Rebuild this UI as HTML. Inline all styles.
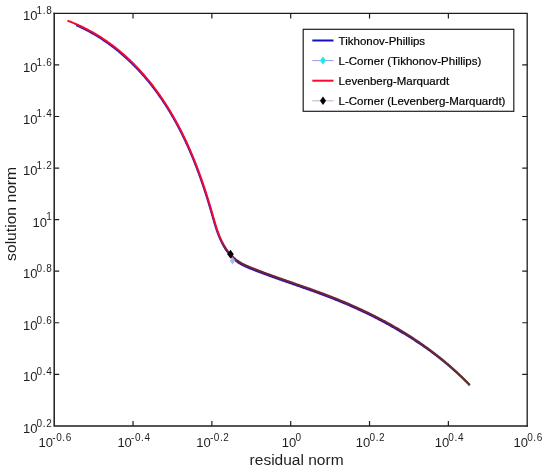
<!DOCTYPE html>
<html><head><meta charset="utf-8"><style>
html,body{margin:0;padding:0;background:#fff;width:550px;height:476px;overflow:hidden}
svg{display:block;will-change:transform}
</style></head><body>
<svg width="550" height="476" viewBox="0 0 550 476">
<rect width="550" height="476" fill="#fff"/>
<defs><linearGradient id="gr" gradientUnits="userSpaceOnUse" x1="218" y1="0" x2="470" y2="0"><stop offset="0.0000" stop-color="#f00a32"/><stop offset="0.0437" stop-color="#6e2432"/><stop offset="0.7222" stop-color="#6e2432"/><stop offset="1.0000" stop-color="#603226"/></linearGradient><linearGradient id="gb" gradientUnits="userSpaceOnUse" x1="218" y1="0" x2="470" y2="0"><stop offset="0.0000" stop-color="#1a1acc"/><stop offset="0.0437" stop-color="#3212a8"/><stop offset="0.7222" stop-color="#3212a8"/><stop offset="1.0000" stop-color="#40207a"/></linearGradient></defs>
<path d="M76.26,25.24 L77.16,25.64 L78.05,26.04 L78.94,26.45 L79.82,26.86 L80.70,27.27 L81.58,27.69 L82.45,28.11 L83.33,28.54 L84.19,28.97 L85.06,29.40 L85.92,29.84 L86.78,30.29 L87.63,30.74 L88.48,31.19 L89.33,31.65 L90.18,32.11 L91.02,32.57 L91.86,33.04 L92.69,33.52 L93.52,34.00 L94.35,34.48 L95.18,34.96 L96.00,35.45 L96.82,35.95 L97.63,36.45 L98.45,36.95 L99.26,37.45 L100.06,37.96 L100.87,38.48 L101.66,39.00 L102.46,39.52 L103.25,40.04 L104.05,40.57 L104.83,41.11 L105.62,41.64 L106.40,42.19 L107.17,42.73 L107.95,43.28 L108.72,43.83 L109.49,44.39 L110.25,44.95 L111.02,45.51 L111.78,46.08 L112.53,46.65 L113.28,47.22 L114.03,47.80 L114.78,48.38 L115.52,48.97 L116.26,49.56 L117.00,50.15 L117.74,50.74 L118.47,51.34 L119.20,51.95 L119.92,52.55 L120.64,53.16 L121.36,53.77 L122.08,54.39 L122.79,55.01 L123.50,55.63 L124.21,56.26 L124.91,56.89 L125.61,57.52 L126.31,58.15 L127.01,58.79 L127.70,59.44 L128.39,60.08 L129.07,60.73 L129.76,61.38 L130.44,62.03 L131.12,62.69 L131.80,63.34 L132.47,64.01 L133.14,64.67 L133.81,65.34 L134.48,66.01 L135.14,66.68 L135.80,67.36 L136.46,68.04 L137.11,68.72 L137.76,69.40 L138.41,70.09 L139.05,70.78 L139.69,71.48 L140.33,72.17 L140.97,72.87 L141.60,73.57 L142.23,74.28 L142.86,74.99 L143.49,75.70 L144.11,76.41 L144.73,77.12 L145.35,77.84 L145.96,78.56 L146.57,79.29 L147.18,80.01 L147.78,80.74 L148.38,81.47 L148.98,82.21 L149.58,82.94 L150.18,83.68 L150.77,84.43 L151.35,85.17 L151.94,85.92 L152.52,86.66 L153.10,87.42 L153.68,88.17 L154.25,88.93 L154.83,89.68 L155.40,90.44 L155.96,91.21 L156.52,91.97 L157.09,92.74 L157.64,93.51 L158.20,94.28 L158.75,95.05 L159.30,95.83 L159.85,96.61 L160.39,97.39 L160.93,98.17 L161.47,98.96 L162.01,99.74 L162.54,100.53 L163.07,101.32 L163.60,102.11 L164.13,102.91 L164.65,103.70 L165.17,104.50 L165.69,105.30 L166.20,106.11 L166.72,106.91 L167.23,107.72 L167.73,108.52 L168.24,109.33 L168.74,110.14 L169.24,110.96 L169.73,111.77 L170.22,112.59 L170.71,113.41 L171.20,114.23 L171.68,115.05 L172.16,115.88 L172.64,116.70 L173.12,117.53 L173.59,118.36 L174.06,119.19 L174.53,120.02 L175.00,120.86 L175.46,121.69 L175.92,122.53 L176.38,123.37 L176.84,124.21 L177.29,125.05 L177.74,125.89 L178.19,126.73 L178.63,127.58 L179.08,128.42 L179.52,129.27 L179.96,130.12 L180.39,130.97 L180.82,131.82 L181.25,132.67 L181.68,133.52 L182.11,134.38 L182.53,135.23 L182.95,136.09 L183.37,136.95 L183.79,137.81 L184.20,138.67 L184.61,139.53 L185.02,140.39 L185.43,141.25 L185.83,142.11 L186.23,142.98 L186.63,143.84 L187.03,144.71 L187.42,145.58 L187.81,146.45 L188.20,147.32 L188.59,148.19 L188.98,149.06 L189.36,149.93 L189.74,150.80 L190.12,151.67 L190.49,152.55 L190.87,153.42 L191.24,154.30 L191.61,155.17 L191.97,156.05 L192.34,156.93 L192.70,157.81 L193.06,158.69 L193.42,159.57 L193.78,160.45 L194.13,161.33 L194.48,162.22 L194.83,163.10 L195.18,163.98 L195.53,164.87 L195.87,165.75 L196.21,166.64 L196.56,167.53 L196.89,168.42 L197.23,169.30 L197.56,170.19 L197.90,171.08 L198.23,171.98 L198.56,172.87 L198.89,173.76 L199.21,174.65 L199.53,175.54 L199.86,176.44 L200.18,177.33 L200.49,178.23 L200.81,179.13 L201.13,180.02 L201.44,180.92 L201.75,181.82 L202.06,182.72 L202.37,183.61 L202.68,184.51 L202.98,185.41 L203.29,186.32 L203.59,187.22 L203.89,188.12 L204.19,189.02 L204.48,189.92 L204.78,190.83 L205.08,191.73 L205.37,192.64 L205.66,193.54 L205.95,194.45 L206.24,195.36 L206.53,196.26 L206.81,197.17 L207.10,198.08 L207.38,198.99 L207.66,199.89 L207.94,200.80 L208.22,201.71 L208.50,202.62 L208.78,203.54 L209.05,204.45 L209.33,205.36 L209.60,206.27 L209.87,207.18 L210.15,208.10 L210.42,209.01 L210.68,209.92 L210.95,210.84 L211.22,211.75 L211.48,212.67 L211.75,213.58 L212.01,214.50 L212.28,215.42 L212.54,216.33 L212.80,217.25 L213.06,218.17 L213.32,219.08 L213.59,220.00 L213.85,220.92 L214.12,221.83 L214.39,222.75 L214.66,223.66 L214.93,224.58 L215.21,225.49 L215.49,226.40 L215.78,227.31 L216.07,228.22 L216.37,229.13 L216.67,230.03 L216.98,230.93 L217.30,231.83 L217.62,232.73 L217.95,233.62 L218.29,234.51 L218.64,235.40 L218.99,236.29 L219.36,237.17 L219.74,238.05 L220.12,238.92 L220.52,239.79 L220.93,240.66 L221.34,241.52 L221.77,242.38 L222.19,243.24 L222.63,244.10 L223.09,244.95 L223.55,245.79 L224.03,246.63 L224.51,247.46 L225.02,248.28 L225.53,249.10 L226.06,249.90 L226.60,250.70 L227.15,251.49 L227.72,252.26 L228.30,253.03 L228.90,253.79 L229.51,254.53 L230.13,255.26 L230.77,255.98 L231.42,256.68 L232.09,257.37 L232.77,258.05 L233.47,258.71 L234.19,259.36 L234.92,259.99 L235.66,260.60 L236.42,261.19 L237.20,261.77 L237.98,262.33 L238.78,262.88 L239.60,263.40 L240.44,263.89 L241.28,264.36 L242.14,264.82 L243.00,265.26 L243.87,265.70 L244.74,266.12 L245.62,266.53 L246.51,266.94 L247.40,267.33 L248.29,267.72 L249.19,268.09 L250.09,268.47 L250.99,268.83 L251.89,269.20 L252.79,269.55 L253.69,269.91 L254.58,270.26 L255.48,270.61 L256.38,270.96 L257.28,271.31 L258.18,271.65 L259.07,271.99 L259.97,272.33 L260.87,272.67 L261.76,273.01 L262.66,273.35 L263.56,273.68 L264.46,274.01 L265.35,274.35 L266.25,274.68 L267.15,275.01 L268.05,275.33 L268.95,275.66 L269.84,275.99 L270.74,276.31 L271.64,276.63 L272.54,276.96 L273.44,277.28 L274.34,277.60 L275.24,277.92 L276.14,278.24 L277.04,278.56 L277.94,278.88 L278.84,279.20 L279.74,279.51 L280.64,279.83 L281.55,280.15 L282.45,280.46 L283.35,280.78 L284.25,281.09 L285.15,281.41 L286.05,281.72 L286.96,282.04 L287.86,282.35 L288.76,282.66 L289.66,282.98 L290.57,283.29 L291.47,283.60 L292.37,283.92 L293.27,284.23 L294.17,284.54 L295.08,284.86 L295.98,285.17 L296.88,285.48 L297.78,285.80 L298.68,286.11 L299.59,286.42 L300.49,286.74 L301.39,287.05 L302.29,287.37 L303.19,287.68 L304.09,288.00 L304.99,288.31 L305.89,288.63 L306.79,288.95 L307.69,289.26 L308.59,289.58 L309.49,289.90 L310.39,290.22 L311.29,290.54 L312.19,290.86 L313.08,291.18 L313.98,291.51 L314.88,291.83 L315.78,292.16 L316.67,292.48 L317.57,292.81 L318.46,293.13 L319.36,293.46 L320.25,293.79 L321.15,294.12 L322.04,294.45 L322.93,294.79 L323.83,295.12 L324.72,295.46 L325.61,295.79 L326.50,296.13 L327.39,296.47 L328.28,296.81 L329.17,297.15 L330.06,297.50 L330.95,297.84 L331.83,298.19 L332.72,298.54 L333.60,298.89 L334.49,299.24 L335.37,299.59 L336.26,299.95 L337.14,300.30 L338.02,300.66 L338.91,301.02 L339.79,301.38 L340.67,301.74 L341.55,302.11 L342.43,302.47 L343.31,302.84 L344.18,303.21 L345.06,303.58 L345.94,303.95 L346.81,304.32 L347.69,304.70 L348.56,305.07 L349.44,305.45 L350.31,305.83 L351.18,306.21 L352.05,306.60 L352.92,306.98 L353.79,307.37 L354.66,307.76 L355.53,308.15 L356.39,308.54 L357.26,308.93 L358.12,309.33 L358.99,309.72 L359.85,310.12 L360.71,310.52 L361.58,310.92 L362.44,311.33 L363.30,311.73 L364.16,312.14 L365.01,312.55 L365.87,312.96 L366.73,313.37 L367.58,313.78 L368.44,314.20 L369.29,314.61 L370.14,315.03 L370.99,315.45 L371.84,315.88 L372.69,316.30 L373.54,316.73 L374.39,317.16 L375.23,317.58 L376.08,318.02 L376.92,318.45 L377.77,318.88 L378.61,319.32 L379.45,319.76 L380.29,320.20 L381.13,320.64 L381.97,321.09 L382.81,321.53 L383.64,321.98 L384.48,322.43 L385.31,322.88 L386.14,323.33 L386.97,323.79 L387.80,324.25 L388.63,324.70 L389.46,325.17 L390.29,325.63 L391.11,326.09 L391.94,326.56 L392.76,327.03 L393.58,327.50 L394.40,327.97 L395.22,328.44 L396.04,328.92 L396.86,329.40 L397.68,329.88 L398.49,330.36 L399.30,330.84 L400.12,331.32 L400.94,331.80 L401.75,332.28 L402.56,332.77 L403.38,333.25 L404.19,333.74 L405.00,334.23 L405.80,334.72 L406.61,335.22 L407.42,335.71 L408.22,336.21 L409.02,336.71 L409.82,337.21 L410.62,337.72 L411.42,338.22 L412.22,338.73 L413.02,339.24 L413.81,339.76 L414.61,340.27 L415.40,340.79 L416.19,341.31 L416.98,341.83 L417.77,342.35 L418.55,342.87 L419.34,343.40 L420.12,343.93 L420.90,344.46 L421.68,344.99 L422.46,345.53 L423.24,346.07 L424.02,346.61 L424.79,347.15 L425.57,347.69 L426.34,348.24 L427.11,348.79 L427.88,349.34 L428.65,349.89 L429.41,350.45 L430.18,351.00 L430.94,351.56 L431.70,352.13 L432.46,352.69 L433.22,353.26 L433.98,353.82 L434.73,354.39 L435.48,354.97 L436.24,355.54 L436.99,356.12 L437.74,356.70 L438.48,357.28 L439.23,357.86 L439.97,358.45 L440.72,359.04 L441.46,359.63 L442.19,360.22 L442.93,360.82 L443.67,361.42 L444.40,362.02 L445.13,362.62 L445.86,363.22 L446.59,363.83 L447.32,364.44 L448.05,365.05 L448.77,365.66 L449.49,366.28 L450.21,366.90 L450.93,367.52 L451.65,368.14 L452.36,368.77 L453.08,369.39 L453.79,370.02 L454.50,370.66 L455.20,371.29 L455.91,371.93 L456.62,372.57 L457.32,373.21 L458.02,373.86 L458.72,374.50 L459.41,375.15 L460.11,375.80 L460.80,376.46 L461.49,377.11 L462.18,377.77 L462.87,378.43 L463.56,379.10 L464.24,379.76 L464.92,380.43 L465.60,381.10 L466.28,381.78 L466.95,382.45 L467.63,383.13 L468.30,383.81 L468.97,384.50 L469.64,385.18" fill="none" stroke="url(#gb)" stroke-width="2" stroke-linejoin="round"/>
<path d="M67.48,20.61 L68.42,20.96 L69.35,21.32 L70.27,21.68 L71.19,22.05 L72.11,22.42 L73.03,22.80 L73.94,23.18 L74.85,23.57 L75.76,23.96 L76.66,24.35 L77.56,24.75 L78.45,25.15 L79.34,25.56 L80.23,25.98 L81.12,26.39 L82.00,26.81 L82.88,27.24 L83.75,27.67 L84.63,28.11 L85.49,28.55 L86.36,28.99 L87.22,29.44 L88.08,29.89 L88.94,30.35 L89.79,30.81 L90.64,31.27 L91.48,31.74 L92.33,32.21 L93.16,32.69 L94.00,33.17 L94.83,33.66 L95.66,34.15 L96.49,34.64 L97.31,35.14 L98.13,35.64 L98.95,36.15 L99.76,36.66 L100.57,37.17 L101.38,37.69 L102.18,38.21 L102.98,38.74 L103.78,39.26 L104.57,39.80 L105.36,40.34 L106.15,40.88 L106.93,41.42 L107.71,41.97 L108.49,42.52 L109.27,43.08 L110.04,43.64 L110.80,44.20 L111.57,44.77 L112.33,45.34 L113.09,45.91 L113.85,46.49 L114.60,47.07 L115.35,47.66 L116.10,48.25 L116.84,48.84 L117.58,49.43 L118.32,50.03 L119.05,50.64 L119.78,51.24 L120.51,51.85 L121.23,52.46 L121.96,53.08 L122.67,53.70 L123.39,54.32 L124.10,54.95 L124.81,55.58 L125.52,56.21 L126.22,56.85 L126.92,57.49 L127.62,58.13 L128.31,58.78 L129.01,59.43 L129.69,60.08 L130.38,60.73 L131.06,61.39 L131.74,62.05 L132.42,62.72 L133.09,63.38 L133.76,64.05 L134.43,64.73 L135.09,65.40 L135.75,66.08 L136.41,66.77 L137.07,67.45 L137.72,68.14 L138.37,68.83 L139.02,69.52 L139.66,70.22 L140.30,70.92 L140.94,71.62 L141.58,72.33 L142.21,73.04 L142.84,73.75 L143.46,74.46 L144.09,75.18 L144.71,75.89 L145.33,76.62 L145.94,77.34 L146.55,78.07 L147.16,78.79 L147.77,79.53 L148.37,80.26 L148.97,81.00 L149.57,81.74 L150.17,82.48 L150.76,83.22 L151.35,83.97 L151.93,84.72 L152.52,85.47 L153.10,86.22 L153.68,86.98 L154.25,87.74 L154.83,88.50 L155.40,89.26 L155.96,90.02 L156.53,90.79 L157.09,91.56 L157.65,92.33 L158.20,93.11 L158.76,93.88 L159.31,94.66 L159.85,95.44 L160.40,96.23 L160.94,97.01 L161.48,97.80 L162.02,98.59 L162.55,99.38 L163.08,100.17 L163.61,100.96 L164.14,101.76 L164.66,102.56 L165.18,103.36 L165.70,104.16 L166.22,104.97 L166.73,105.77 L167.24,106.58 L167.75,107.39 L168.25,108.20 L168.76,109.01 L169.26,109.83 L169.75,110.64 L170.25,111.46 L170.74,112.28 L171.23,113.10 L171.71,113.93 L172.20,114.75 L172.68,115.58 L173.16,116.41 L173.63,117.24 L174.11,118.07 L174.58,118.90 L175.05,119.73 L175.51,120.57 L175.98,121.41 L176.44,122.25 L176.90,123.09 L177.35,123.93 L177.80,124.77 L178.26,125.61 L178.70,126.46 L179.15,127.31 L179.59,128.15 L180.03,129.00 L180.47,129.85 L180.91,130.70 L181.34,131.56 L181.77,132.41 L182.20,133.27 L182.62,134.12 L183.05,134.98 L183.47,135.84 L183.89,136.70 L184.30,137.56 L184.72,138.42 L185.13,139.28 L185.54,140.15 L185.94,141.01 L186.35,141.88 L186.75,142.74 L187.15,143.61 L187.54,144.48 L187.94,145.35 L188.33,146.22 L188.72,147.09 L189.11,147.96 L189.49,148.83 L189.87,149.70 L190.25,150.58 L190.63,151.45 L191.01,152.33 L191.38,153.20 L191.75,154.08 L192.12,154.96 L192.49,155.84 L192.85,156.72 L193.21,157.60 L193.58,158.48 L193.93,159.36 L194.29,160.24 L194.64,161.13 L195.00,162.01 L195.35,162.90 L195.69,163.78 L196.04,164.67 L196.38,165.56 L196.73,166.44 L197.07,167.33 L197.41,168.22 L197.74,169.11 L198.08,170.00 L198.41,170.89 L198.74,171.79 L199.07,172.68 L199.40,173.57 L199.72,174.47 L200.04,175.36 L200.37,176.26 L200.69,177.15 L201.00,178.05 L201.32,178.95 L201.64,179.84 L201.95,180.74 L202.26,181.64 L202.57,182.54 L202.88,183.44 L203.18,184.34 L203.49,185.24 L203.79,186.15 L204.09,187.05 L204.40,187.95 L204.69,188.85 L204.99,189.76 L205.29,190.66 L205.58,191.57 L205.87,192.47 L206.17,193.38 L206.46,194.29 L206.74,195.20 L207.03,196.10 L207.32,197.01 L207.60,197.92 L207.88,198.83 L208.17,199.74 L208.45,200.65 L208.73,201.56 L209.00,202.47 L209.28,203.38 L209.56,204.30 L209.83,205.21 L210.10,206.12 L210.38,207.03 L210.65,207.95 L210.92,208.86 L211.18,209.78 L211.45,210.69 L211.72,211.61 L211.98,212.52 L212.25,213.44 L212.51,214.36 L212.77,215.27 L213.03,216.19 L213.30,217.11 L213.56,218.02 L213.82,218.94 L214.08,219.86 L214.34,220.77 L214.61,221.69 L214.88,222.60 L215.15,223.52 L215.42,224.43 L215.70,225.34 L215.98,226.25 L216.27,227.16 L216.56,228.06 L216.85,228.97 L217.15,229.87 L217.46,230.77 L217.78,231.66 L218.10,232.55 L218.43,233.45 L218.76,234.33 L219.11,235.22 L219.46,236.10 L219.82,236.97 L220.20,237.85 L220.58,238.72 L220.97,239.58 L221.38,240.44 L221.79,241.30 L222.22,242.15 L222.66,243.00 L223.11,243.84 L223.57,244.67 L224.05,245.50 L224.54,246.32 L225.04,247.13 L225.55,247.93 L226.08,248.73 L226.62,249.51 L227.17,250.29 L227.73,251.05 L228.31,251.80 L228.90,252.55 L229.50,253.27 L230.12,253.99 L230.75,254.69 L231.40,255.38 L232.05,256.05 L232.73,256.71 L233.41,257.35 L234.11,257.98 L234.83,258.59 L235.55,259.18 L236.30,259.76 L237.05,260.31 L237.83,260.85 L238.61,261.37 L239.40,261.88 L240.21,262.37 L241.03,262.85 L241.86,263.31 L242.70,263.76 L243.54,264.20 L244.40,264.62 L245.26,265.04 L246.13,265.45 L247.00,265.85 L247.88,266.24 L248.76,266.62 L249.65,266.99 L250.54,267.36 L251.44,267.73 L252.33,268.09 L253.23,268.45 L254.12,268.80 L255.02,269.15 L255.91,269.50 L256.81,269.85 L257.71,270.20 L258.60,270.54 L259.50,270.88 L260.39,271.22 L261.29,271.56 L262.18,271.90 L263.08,272.24 L263.97,272.57 L264.87,272.90 L265.76,273.24 L266.66,273.57 L267.56,273.89 L268.45,274.22 L269.35,274.55 L270.25,274.88 L271.14,275.20 L272.04,275.52 L272.94,275.85 L273.84,276.17 L274.74,276.49 L275.63,276.81 L276.53,277.13 L277.43,277.45 L278.33,277.77 L279.23,278.09 L280.13,278.41 L281.03,278.72 L281.93,279.04 L282.84,279.36 L283.74,279.67 L284.64,279.99 L285.54,280.30 L286.44,280.62 L287.34,280.93 L288.24,281.24 L289.15,281.56 L290.05,281.87 L290.95,282.19 L291.85,282.50 L292.75,282.81 L293.66,283.13 L294.56,283.44 L295.46,283.75 L296.36,284.07 L297.26,284.38 L298.17,284.70 L299.07,285.01 L299.97,285.33 L300.87,285.64 L301.77,285.96 L302.67,286.27 L303.57,286.59 L304.48,286.90 L305.38,287.22 L306.28,287.54 L307.18,287.86 L308.08,288.17 L308.98,288.49 L309.88,288.81 L310.78,289.13 L311.68,289.45 L312.58,289.78 L313.47,290.10 L314.37,290.42 L315.27,290.75 L316.17,291.07 L317.07,291.40 L317.96,291.73 L318.86,292.05 L319.76,292.38 L320.65,292.71 L321.55,293.05 L322.44,293.38 L323.34,293.71 L324.23,294.05 L325.12,294.38 L326.02,294.72 L326.91,295.06 L327.80,295.40 L328.69,295.74 L329.58,296.09 L330.47,296.43 L331.36,296.78 L332.25,297.13 L333.14,297.48 L334.03,297.83 L334.91,298.18 L335.80,298.53 L336.68,298.89 L337.57,299.25 L338.45,299.61 L339.34,299.97 L340.22,300.33 L341.10,300.69 L341.98,301.06 L342.87,301.42 L343.75,301.79 L344.63,302.16 L345.50,302.53 L346.38,302.91 L347.26,303.28 L348.14,303.66 L349.01,304.04 L349.89,304.42 L350.76,304.80 L351.63,305.18 L352.51,305.56 L353.38,305.95 L354.25,306.34 L355.12,306.73 L355.99,307.12 L356.86,307.51 L357.73,307.91 L358.59,308.30 L359.46,308.70 L360.32,309.10 L361.19,309.50 L362.05,309.91 L362.91,310.31 L363.78,310.72 L364.64,311.12 L365.50,311.53 L366.36,311.95 L367.21,312.36 L368.07,312.77 L368.93,313.19 L369.78,313.61 L370.64,314.03 L371.49,314.45 L372.34,314.88 L373.19,315.30 L374.04,315.73 L374.89,316.16 L375.74,316.59 L376.59,317.02 L377.43,317.46 L378.28,317.90 L379.12,318.33 L379.97,318.77 L380.81,319.22 L381.65,319.66 L382.49,320.11 L383.33,320.55 L384.17,321.00 L385.00,321.45 L385.84,321.91 L386.67,322.36 L387.51,322.82 L388.34,323.28 L389.17,323.74 L390.00,324.20 L390.83,324.66 L391.66,325.13 L392.48,325.60 L393.31,326.07 L394.13,326.54 L394.96,327.01 L395.78,327.49 L396.60,327.97 L397.42,328.45 L398.24,328.93 L399.05,329.41 L399.87,329.90 L400.68,330.38 L401.50,330.87 L402.31,331.37 L403.12,331.86 L403.93,332.35 L404.74,332.85 L405.54,333.35 L406.35,333.85 L407.15,334.35 L407.95,334.86 L408.76,335.37 L409.56,335.88 L410.35,336.39 L411.15,336.90 L411.95,337.42 L412.74,337.93 L413.54,338.45 L414.33,338.97 L415.12,339.50 L415.91,340.02 L416.70,340.55 L417.48,341.08 L418.27,341.61 L419.05,342.15 L419.83,342.68 L420.61,343.22 L421.39,343.76 L422.17,344.30 L422.95,344.85 L423.72,345.39 L424.49,345.94 L425.27,346.49 L426.04,347.04 L426.80,347.60 L427.57,348.15 L428.34,348.71 L429.10,349.27 L429.86,349.84 L430.62,350.40 L431.38,350.97 L432.14,351.54 L432.90,352.11 L433.65,352.69 L434.41,353.26 L435.16,353.84 L435.91,354.42 L436.66,355.01 L437.40,355.59 L438.15,356.18 L438.89,356.77 L439.63,357.36 L440.37,357.95 L441.11,358.55 L441.85,359.15 L442.58,359.75 L443.32,360.35 L444.05,360.96 L444.78,361.56 L445.51,362.17 L446.23,362.78 L446.96,363.40 L447.68,364.02 L448.40,364.63 L449.12,365.26 L449.84,365.88 L450.56,366.50 L451.27,367.13 L451.98,367.76 L452.69,368.39 L453.40,369.03 L454.11,369.67 L454.82,370.31 L455.52,370.95 L456.22,371.59 L456.92,372.24 L457.62,372.89 L458.31,373.54 L459.01,374.19 L459.70,374.85 L460.39,375.51 L461.08,376.17 L461.77,376.83 L462.45,377.50 L463.14,378.16 L463.82,378.83 L464.50,379.51 L465.17,380.18 L465.85,380.86 L466.52,381.54 L467.19,382.22 L467.86,382.91 L468.53,383.59 L469.19,384.28 L469.86,384.97" fill="none" stroke="url(#gr)" stroke-width="2" stroke-linejoin="round"/>
<path d="M232.6,257 L235.4,260.7 L232.6,264.4 L229.8,260.7Z" fill="#a8b4ff"/>
<path d="M230.5,249.8 L233.8,254.2 L230.5,258.6 L227.2,254.2Z" fill="#000"/>
<path d="M54.2,13.4H527.2M527.2,13.4V425.9" stroke="#1e1e1e" stroke-width="1.3" fill="none" stroke-linecap="square"/>
<path d="M54.2,13.4V425.9H527.2" stroke="#1e1e1e" stroke-width="1.5" fill="none" stroke-linecap="square"/>
<path d="M133.03,425.9V420.9M133.03,13.4V18.4M211.87,425.9V420.9M211.87,13.4V18.4M290.70,425.9V420.9M290.70,13.4V18.4M369.53,425.9V420.9M369.53,13.4V18.4M448.37,425.9V420.9M448.37,13.4V18.4M54.2,374.34H59.2M527.2,374.34H522.2M54.2,322.77H59.2M527.2,322.77H522.2M54.2,271.21H59.2M527.2,271.21H522.2M54.2,219.65H59.2M527.2,219.65H522.2M54.2,168.09H59.2M527.2,168.09H522.2M54.2,116.52H59.2M527.2,116.52H522.2M54.2,64.96H59.2M527.2,64.96H522.2" stroke="#1e1e1e" stroke-width="1.2" fill="none"/>
<text font-family="Liberation Sans, sans-serif" fill="#1e1e1e" text-anchor="middle" y="446.8"><tspan x="55.20" font-size="13">10</tspan><tspan font-size="10" letter-spacing="0.6" dx="-0.8" dy="-6.3">-0.6</tspan></text>
<text font-family="Liberation Sans, sans-serif" fill="#1e1e1e" text-anchor="middle" y="446.8"><tspan x="134.03" font-size="13">10</tspan><tspan font-size="10" letter-spacing="0.6" dx="-0.8" dy="-6.3">-0.4</tspan></text>
<text font-family="Liberation Sans, sans-serif" fill="#1e1e1e" text-anchor="middle" y="446.8"><tspan x="212.87" font-size="13">10</tspan><tspan font-size="10" letter-spacing="0.6" dx="-0.8" dy="-6.3">-0.2</tspan></text>
<text font-family="Liberation Sans, sans-serif" fill="#1e1e1e" text-anchor="middle" y="446.8"><tspan x="291.70" font-size="13">10</tspan><tspan font-size="10" letter-spacing="0.6" dx="-0.8" dy="-6.3">0</tspan></text>
<text font-family="Liberation Sans, sans-serif" fill="#1e1e1e" text-anchor="middle" y="446.8"><tspan x="370.53" font-size="13">10</tspan><tspan font-size="10" letter-spacing="0.6" dx="-0.8" dy="-6.3">0.2</tspan></text>
<text font-family="Liberation Sans, sans-serif" fill="#1e1e1e" text-anchor="middle" y="446.8"><tspan x="449.37" font-size="13">10</tspan><tspan font-size="10" letter-spacing="0.6" dx="-0.8" dy="-6.3">0.4</tspan></text>
<text font-family="Liberation Sans, sans-serif" fill="#1e1e1e" text-anchor="middle" y="446.8"><tspan x="528.20" font-size="13">10</tspan><tspan font-size="10" letter-spacing="0.6" dx="-0.8" dy="-6.3">0.6</tspan></text>
<text font-family="Liberation Sans, sans-serif" fill="#1e1e1e" text-anchor="end" x="52.3" y="432.90"><tspan font-size="13">10</tspan><tspan font-size="10" letter-spacing="0.6" dx="-0.8" dy="-6.2">0.2</tspan></text>
<text font-family="Liberation Sans, sans-serif" fill="#1e1e1e" text-anchor="end" x="52.3" y="381.34"><tspan font-size="13">10</tspan><tspan font-size="10" letter-spacing="0.6" dx="-0.8" dy="-6.2">0.4</tspan></text>
<text font-family="Liberation Sans, sans-serif" fill="#1e1e1e" text-anchor="end" x="52.3" y="329.77"><tspan font-size="13">10</tspan><tspan font-size="10" letter-spacing="0.6" dx="-0.8" dy="-6.2">0.6</tspan></text>
<text font-family="Liberation Sans, sans-serif" fill="#1e1e1e" text-anchor="end" x="52.3" y="278.21"><tspan font-size="13">10</tspan><tspan font-size="10" letter-spacing="0.6" dx="-0.8" dy="-6.2">0.8</tspan></text>
<text font-family="Liberation Sans, sans-serif" fill="#1e1e1e" text-anchor="end" x="52.3" y="226.65"><tspan font-size="13">10</tspan><tspan font-size="10" letter-spacing="0.6" dx="-0.8" dy="-6.2">1</tspan></text>
<text font-family="Liberation Sans, sans-serif" fill="#1e1e1e" text-anchor="end" x="52.3" y="175.09"><tspan font-size="13">10</tspan><tspan font-size="10" letter-spacing="0.6" dx="-0.8" dy="-6.2">1.2</tspan></text>
<text font-family="Liberation Sans, sans-serif" fill="#1e1e1e" text-anchor="end" x="52.3" y="123.52"><tspan font-size="13">10</tspan><tspan font-size="10" letter-spacing="0.6" dx="-0.8" dy="-6.2">1.4</tspan></text>
<text font-family="Liberation Sans, sans-serif" fill="#1e1e1e" text-anchor="end" x="52.3" y="71.96"><tspan font-size="13">10</tspan><tspan font-size="10" letter-spacing="0.6" dx="-0.8" dy="-6.2">1.6</tspan></text>
<text font-family="Liberation Sans, sans-serif" fill="#1e1e1e" text-anchor="end" x="52.3" y="20.40"><tspan font-size="13">10</tspan><tspan font-size="10" letter-spacing="0.6" dx="-0.8" dy="-6.2">1.8</tspan></text>
<text font-family="Liberation Sans, sans-serif" fill="#1e1e1e" font-size="14" x="249.6" y="464.9" textLength="94" lengthAdjust="spacingAndGlyphs">residual norm</text>
<text font-family="Liberation Sans, sans-serif" fill="#1e1e1e" font-size="14" transform="translate(16.2,260.9) rotate(-90)" x="0" y="0" textLength="94" lengthAdjust="spacingAndGlyphs">solution norm</text>
<rect x="303.2" y="29.3" width="210.6" height="82" fill="#fff" stroke="#1e1e1e" stroke-width="1.2"/>
<path d="M312.3,40.5H333.5" stroke="#1010c0" stroke-width="2"/>
<path d="M312.3,60.6H333.5" stroke="#9a9af0" stroke-width="1"/>
<path d="M323,56.4 L326,60.6 L323,64.8 L320,60.6Z" fill="#22e5f0"/>
<path d="M312.3,80.7H333.5" stroke="#f80a30" stroke-width="2"/>
<path d="M312.3,100.8H333.5" stroke="#c8a8d0" stroke-width="1"/>
<path d="M323,96.6 L326,100.8 L323,105.0 L320,100.8Z" fill="#000"/>
<text font-family="Liberation Sans, sans-serif" fill="#000" stroke="#000" stroke-width="0.2" font-size="11.5" x="338.6" y="44.80">Tikhonov-Phillips</text>
<text font-family="Liberation Sans, sans-serif" fill="#000" stroke="#000" stroke-width="0.2" font-size="11.5" x="338.6" y="64.90">L-Corner (Tikhonov-Phillips)</text>
<text font-family="Liberation Sans, sans-serif" fill="#000" stroke="#000" stroke-width="0.2" font-size="11.5" x="338.6" y="85.00">Levenberg-Marquardt</text>
<text font-family="Liberation Sans, sans-serif" fill="#000" stroke="#000" stroke-width="0.2" font-size="11.5" x="338.6" y="105.10">L-Corner (Levenberg-Marquardt)</text>
</svg>
</body></html>
